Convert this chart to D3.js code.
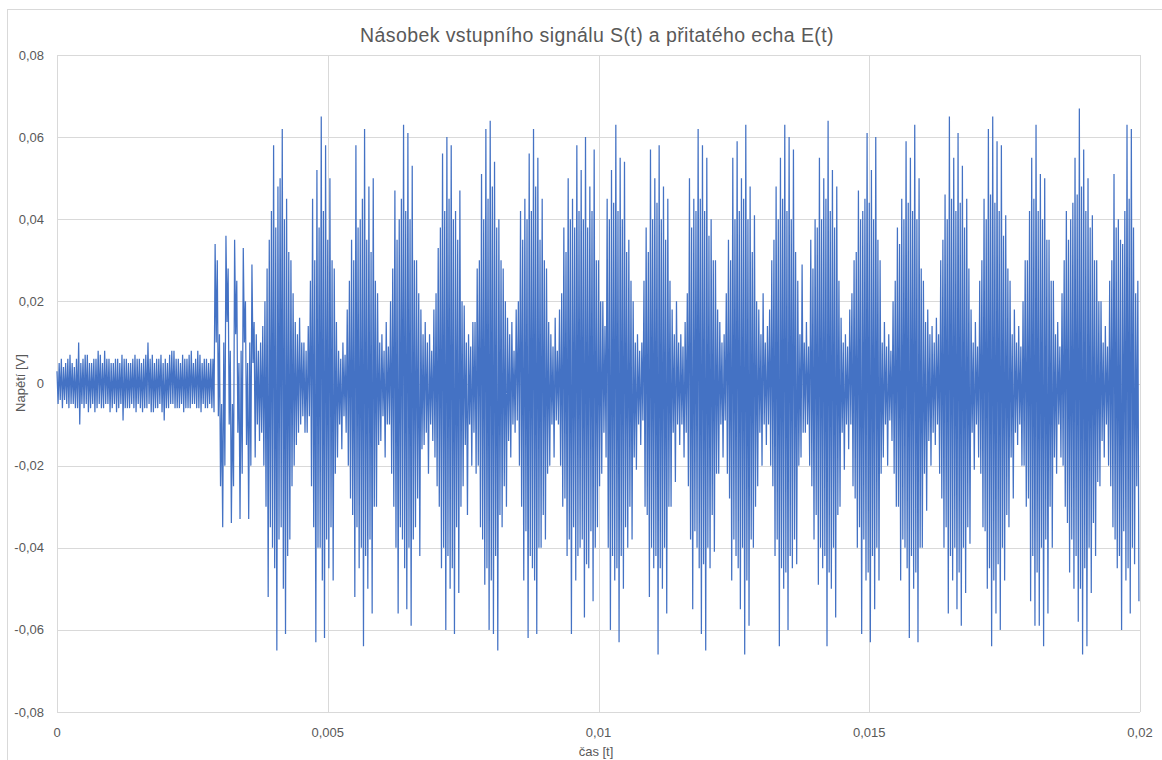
<!DOCTYPE html>
<html lang="cs">
<head>
<meta charset="utf-8">
<title>Násobek vstupního signálu S(t) a přitatého echa E(t)</title>
<script src="https://cdn.jsdelivr.net/npm/d3@7/dist/d3.min.js"></script>
<style>
  html, body { margin: 0; padding: 0; background: #ffffff; }
  svg { display: block; }
  text { font-family: "Liberation Sans", "Noto Sans", sans-serif; fill: #595959; }
</style>
</head>
<body>
<svg id="graf" width="1162" height="760"></svg>
<script>
// ---- data -------------------------------------------------------------
// Signal sampled as pairs of extremes (mV): for step k the upper swing sits at
// t = k*krok and the lower swing at t = k*krok + krok/2.
const krok = 0.00004;

const horniMv = [
  // 0 – 0.0029 s: noise only
  3,5,6,4,5,6,7,5,4,6,  10,5,6,7,7,5,5,6,6,8,  7,5,8,6,6,5,5,6,6,5,
  7,6,6,5,5,6,7,6,6,5,  6,7,10,6,7,5,6,6,7,5,  6,5,7,8,8,6,6,5,7,6,
  6,7,8,5,6,8,7,5,6,6,  5,6,6,
  // first weak echo
  34,30,12,-5,10,36,28,8,-5,35,25,5,8,33,20,5,10,29,15,12,8,10,14,
  // bursts / quiet stretches
  20,28,35,42,58,38,48,50,62,40,45,32,30,22,15,12,
  16,10,10,8,14,
  25,45,30,52,38,65,42,58,35,50,30,28,15,
  8,6,10,7,
  18,25,35,30,58,38,40,45,62,35,48,32,50,25,22,
  10,12,8,15,9,
  20,28,47,35,40,45,63,42,61,40,53,30,30,22,18,12,
  15,10,12,8,
  18,22,33,38,56,42,60,45,58,40,42,35,47,20,
  19,10,12,9,15,
  15,28,30,51,40,62,45,64,48,54,38,40,30,28,20,16,
  12,15,8,18,
  20,42,35,45,40,56,42,62,48,55,35,45,30,28,15,
  12,9,16,8,
  18,22,38,32,50,40,45,38,58,42,52,40,60,38,48,42,57,30,30,20,
  20,14,
  45,40,52,44,63,42,55,40,54,32,35,25,20,
  10,12,8,10,
  25,38,32,57,40,50,44,58,40,48,35,45,25,
  18,12,20,10,12,9,15,
  22,50,38,45,42,62,45,58,42,55,36,40,30,30,18,
  15,10,12,
  22,35,30,55,40,59,42,50,45,63,40,48,32,41,20,
  18,12,22,10,14,
  18,30,35,48,40,55,45,63,42,60,40,57,32,25,
  12,29,10,15,9,
  35,28,40,38,55,40,50,45,64,42,52,38,48,25,
  16,10,12,9,18,
  22,30,32,47,40,42,45,61,44,52,40,60,35,30,
  10,15,9,12,8,
  20,25,38,34,45,40,59,44,55,42,63,40,50,
  28,25,15,18,12,14,10,16,12,
  30,35,46,40,65,45,55,42,61,44,53,38,45,28,
  18,10,15,9,
  25,30,45,40,62,46,65,44,59,42,58,36,41,28,25,
  12,18,10,14,9,
  20,30,30,42,55,45,63,42,51,40,50,35,35,25,25,
  12,15,9,
  22,30,42,35,40,44,55,46,67,48,57,42,50,38,41,30,30,20,20,
  10,14,9,
  25,30,51,38,40,35,34,42,63,45,62,38,22,25
];

const dolniMv = [
  // 0 – 0.0029 s: noise only
  -5,-4,-6,-4,-5,-6,-5,-5,-6,-6,  -10,-5,-6,-5,-7,-6,-5,-7,-6,-5,  -6,-6,-5,-5,-7,-6,-5,-7,-6,-5,
  -9,-6,-6,-6,-5,-6,-7,-5,-6,-7,  -6,-6,-5,-7,-7,-6,-6,-5,-7,-9,   -6,-6,-5,-5,-6,-6,-6,-5,-7,-6,
  -6,-6,-5,-5,-6,-6,-7,-5,-6,-6,  -5,-6,-7,
  // first weak echo
  10,-8,-25,-35,-20,15,-10,-34,-25,12,-12,-33,-22,10,-15,-33,-20,5,-18,-10,-14,-12,-20,
  // bursts / quiet stretches
  -30,-52,-35,-40,-45,-65,-38,-35,-50,-61,-42,-38,-25,-20,-15,-12,
  -10,-8,-12,-12,-8,
  -25,-35,-63,-40,-40,-48,-62,-38,-45,-35,-48,-22,-18,
  -10,-16,-8,-12,
  -20,-28,-32,-52,-35,-45,-40,-64,-42,-50,-38,-56,-30,-30,-15,
  -14,-8,-18,-10,-10,
  -22,-30,-40,-56,-35,-38,-45,-55,-40,-59,-38,-35,-28,-42,-16,-15,
  -12,-22,-10,-14,
  -18,-25,-30,-45,-40,-60,-42,-50,-45,-61,-35,-51,-30,-25,
  -15,-32,-10,-20,-12,
  -22,-20,-35,-38,-49,-45,-60,-48,-61,-42,-65,-32,-35,-25,-30,-14,
  -18,-10,-12,-9,
  -20,-30,-48,-36,-62,-42,-45,-48,-61,-40,-40,-32,-38,-22,-20,
  -10,-18,-9,-10,
  -20,-30,-28,-42,-38,-61,-35,-48,-42,-40,-38,-57,-44,-45,-36,-53,-40,-35,-25,-22,
  -12,-18,
  -40,-60,-42,-48,-45,-63,-42,-50,-35,-40,-30,-38,-18,
  -21,-10,-15,-9,
  -30,-32,-52,-40,-45,-42,-66,-45,-50,-40,-56,-30,-30,
  -12,-24,-10,-15,-10,-18,-12,
  -25,-38,-55,-36,-40,-45,-61,-44,-65,-40,-45,-32,-41,-22,-22,
  -10,-18,-9,
  -22,-28,-48,-38,-42,-45,-55,-40,-66,-48,-59,-38,-40,-30,-25,
  -12,-20,-10,-15,-10,
  -20,-25,-42,-38,-64,-45,-50,-46,-60,-42,-45,-38,-44,-20,
  -18,-12,-12,-10,-20,
  -25,-38,-32,-49,-40,-45,-42,-64,-46,-50,-40,-57,-32,-30,
  -12,-21,-10,-16,-10,
  -25,-28,-40,-35,-61,-38,-48,-46,-63,-42,-55,-40,-48,-22,
  -18,-10,-20,-9,-14,
  -22,-30,-30,-48,-38,-40,-45,-62,-42,-50,-46,-63,-40,
  -40,-22,-31,-14,-20,-12,-15,-10,-22,
  -28,-40,-35,-56,-42,-48,-40,-55,-46,-59,-40,-51,-35,-39,
  -12,-21,-10,-18,
  -22,-35,-36,-50,-45,-64,-48,-56,-44,-60,-40,-48,-32,-35,-18,
  -28,-12,-15,-10,-20,
  -20,-30,-28,-53,-42,-59,-46,-59,-40,-64,-38,-56,-30,-40,-18,
  -22,-10,-18,
  -20,-30,-34,-46,-38,-50,-42,-58,-50,-66,-45,-64,-40,-51,-34,-42,-24,-25,-14,
  -18,-10,-20,
  -25,-35,-38,-45,-42,-60,-36,-48,-45,-56,-40,-44,-25,-53
];

// Axis ticks and their labels
const xTicks      = [0, 0.005, 0.01, 0.015, 0.02];
const xTickLabels = ["0", "0,005", "0,01", "0,015", "0,02"];
const yTicks      = [-0.08, -0.06, -0.04, -0.02, 0, 0.02, 0.04, 0.06, 0.08];
const yTickLabels = ["-0,08", "-0,06", "-0,04", "-0,02", "0", "0,02", "0,04", "0,06", "0,08"];

const nadpis = "Násobek vstupního signálu S(t) a přitatého echa E(t)";
const popisX = "čas [t]";
const popisY = "Napětí [V]";

// ---- drawing ----------------------------------------------------------
const svg = d3.select("#graf");
const W = 1162, H = 760;
const plot = { left: 57, right: 1140, top: 55, bottom: 712 };

svg.append("rect").attr("width", W).attr("height", H).attr("fill", "#ffffff");
// chart frame
svg.append("rect")
  .attr("x", 7.5).attr("y", 9.5).attr("width", 1200).attr("height", 800)
  .attr("fill", "none").attr("stroke", "#d9d9d9").attr("stroke-width", 1);

const x = d3.scaleLinear().domain([0, 0.02]).range([plot.left, plot.right]);
const y = d3.scaleLinear().domain([-0.08, 0.08]).range([plot.bottom, plot.top]);

// grid
const grid = svg.append("g").attr("shape-rendering", "crispEdges");
grid.selectAll("line.h").data(yTicks).join("line")
  .attr("class", "h")
  .attr("x1", plot.left).attr("x2", plot.right)
  .attr("y1", d => Math.round(y(d)) + 0.5).attr("y2", d => Math.round(y(d)) + 0.5)
  .attr("stroke", "#d9d9d9").attr("stroke-width", 1);
grid.selectAll("line.v").data(xTicks).join("line")
  .attr("class", "v")
  .attr("y1", plot.top).attr("y2", plot.bottom)
  .attr("x1", d => Math.round(x(d)) + 0.5).attr("x2", d => Math.round(x(d)) + 0.5)
  .attr("stroke", "#d9d9d9").attr("stroke-width", 1);

// tick labels
svg.append("g").selectAll("text").data(yTicks).join("text")
  .attr("x", 44).attr("y", d => y(d) + 4.5)
  .attr("text-anchor", "end").attr("font-size", 13)
  .text((d, i) => yTickLabels[i]);
svg.append("g").selectAll("text").data(xTicks).join("text")
  .attr("x", d => x(d)).attr("y", 737)
  .attr("text-anchor", "middle").attr("font-size", 13)
  .text((d, i) => xTickLabels[i]);

// axis titles and chart title
svg.append("text").attr("x", 596).attr("y", 756)
  .attr("text-anchor", "middle").attr("font-size", 13).text(popisX);
svg.append("text")
  .attr("transform", "translate(25,383) rotate(-90)")
  .attr("text-anchor", "middle").attr("font-size", 13).text(popisY);
svg.append("text").attr("x", 597).attr("y", 42)
  .attr("text-anchor", "middle").attr("font-size", 19.5)
  .attr("letter-spacing", 0.4)
  .attr("font-family", "'Open Sans', 'Noto Sans', sans-serif")
  .attr("font-weight", 300)
  .text(nadpis);

// signal: upper and lower swings taken in turn
const n = Math.min(horniMv.length, dolniMv.length);
const body = [];
for (let k = 0; k < n; k++) {
  body.push({ t: k * krok, v: horniMv[k] / 1000 });
  body.push({ t: k * krok + krok / 2, v: dolniMv[k] / 1000 });
}

svg.append("path")
  .datum(body)
  .attr("fill", "none")
  .attr("stroke", "#4472C4")
  .attr("stroke-width", 1.25)
  .attr("stroke-linejoin", "bevel")
  .attr("d", d3.line().x(d => x(d.t)).y(d => y(d.v)));
</script>
</body>
</html>
